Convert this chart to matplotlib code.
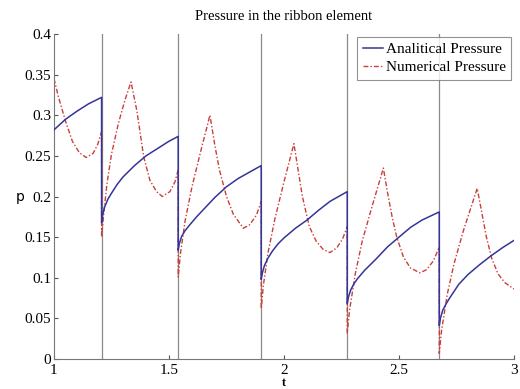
import matplotlib
matplotlib.use("Agg")
import matplotlib.pyplot as plt

# switching instants (vertical lines)
t_switch = [1.207, 1.540, 1.901, 2.275, 2.675]

# analytical pressure (jumps are repeated t values)
t_ana = [1.0, 1.05, 1.10, 1.15, 1.207,
         1.207, 1.212, 1.22, 1.235, 1.25, 1.275, 1.30, 1.35, 1.40, 1.45, 1.50, 1.540,
         1.540, 1.545, 1.555, 1.57, 1.59, 1.62, 1.65, 1.70, 1.75, 1.80, 1.85, 1.901,
         1.901, 1.906, 1.915, 1.93, 1.95, 1.975, 2.00, 2.05, 2.10, 2.15, 2.20, 2.275,
         2.275, 2.28, 2.29, 2.305, 2.32, 2.35, 2.40, 2.45, 2.50, 2.55, 2.60, 2.675,
         2.675, 2.68, 2.69, 2.705, 2.72, 2.76, 2.80, 2.85, 2.90, 2.95, 3.0]
p_ana = [0.282, 0.295, 0.305, 0.314, 0.322,
         0.168, 0.178, 0.187, 0.197, 0.204, 0.215, 0.224, 0.238, 0.250, 0.259, 0.268, 0.274,
         0.134, 0.142, 0.151, 0.158, 0.165, 0.175, 0.184, 0.199, 0.212, 0.222, 0.230, 0.238,
         0.098, 0.106, 0.115, 0.124, 0.133, 0.142, 0.149, 0.161, 0.171, 0.183, 0.194, 0.206,
         0.068, 0.076, 0.085, 0.093, 0.099, 0.109, 0.123, 0.138, 0.150, 0.162, 0.171, 0.181,
         0.041, 0.050, 0.060, 0.068, 0.075, 0.092, 0.104, 0.116, 0.127, 0.137, 0.146]

# numerical pressure
t_num = [1.0, 1.02, 1.05, 1.08, 1.11, 1.14, 1.17, 1.19, 1.207,
         1.207, 1.215, 1.23, 1.25, 1.28, 1.31, 1.335,
         1.36, 1.39, 1.417, 1.446, 1.471, 1.504, 1.526, 1.540,
         1.540, 1.55, 1.57, 1.60, 1.64, 1.678,
         1.70, 1.72, 1.75, 1.78, 1.823, 1.85, 1.88, 1.901,
         1.901, 1.91, 1.93, 1.96, 2.00, 2.043,
         2.06, 2.08, 2.11, 2.14, 2.17, 2.20, 2.23, 2.255, 2.275,
         2.275, 2.285, 2.31, 2.34, 2.38, 2.432,
         2.45, 2.47, 2.49, 2.52, 2.55, 2.591, 2.62, 2.65, 2.675,
         2.675, 2.685, 2.71, 2.74, 2.78, 2.84,
         2.86, 2.88, 2.903, 2.93, 2.96, 3.0]
p_num = [0.345, 0.322, 0.293, 0.268, 0.254, 0.248, 0.253, 0.264, 0.280,
         0.150, 0.175, 0.215, 0.252, 0.290, 0.320, 0.341,
         0.306, 0.249, 0.220, 0.206, 0.200, 0.206, 0.218, 0.233,
         0.101, 0.130, 0.170, 0.212, 0.258, 0.300,
         0.262, 0.232, 0.200, 0.178, 0.161, 0.165, 0.177, 0.194,
         0.062, 0.090, 0.130, 0.172, 0.218, 0.265,
         0.235, 0.200, 0.163, 0.145, 0.135, 0.131, 0.137, 0.148, 0.163,
         0.032, 0.060, 0.105, 0.145, 0.185, 0.235,
         0.205, 0.175, 0.150, 0.125, 0.112, 0.106, 0.110, 0.121, 0.138,
         0.007, 0.035, 0.080, 0.118, 0.158, 0.210,
         0.180, 0.150, 0.124, 0.105, 0.094, 0.086]

x_ticks = [1, 1.5, 2, 2.5, 3]
x_labels = ["1", "1.5", "2", "2.5", "3"]
y_ticks = [0, 0.05, 0.1, 0.15, 0.2, 0.25, 0.3, 0.35, 0.4]
y_labels = ["0", "0.05", "0.1", "0.15", "0.2", "0.25", "0.3", "0.35", "0.4"]

serif = "Liberation Serif"

fig = plt.figure(figsize=(5.2, 3.89), dpi=100)
ax = fig.add_axes([0.1038, 0.0771, 0.8847, 0.8355])

for ts in t_switch:
    ax.axvline(ts, color="#8a8a8a", linewidth=0.9, zorder=1)

ax.plot(t_ana, p_ana, color="#34349a", linewidth=1.1, label="Analitical Pressure", zorder=3)
ax.plot(t_num, p_num, color="#c8403a", linewidth=1.0, dashes=(3.5, 1.5, 1, 1.5),
        label="Numerical Pressure", zorder=2)

ax.set_xlim(1, 3)
ax.set_ylim(0, 0.4)
ax.set_xticks(x_ticks)
ax.set_xticklabels(x_labels, fontfamily=serif, fontsize=11)
ax.set_yticks(y_ticks)
ax.set_yticklabels(y_labels, fontfamily=serif, fontsize=11)
ax.tick_params(direction="in", length=3, width=0.8, color="#555555")
ax.tick_params(axis="x", pad=3.5)
ax.tick_params(axis="y", pad=2)

ax.spines["top"].set_visible(False)
ax.spines["right"].set_visible(False)
ax.spines["left"].set_color("#777777")
ax.spines["bottom"].set_color("#777777")

ax.set_title("Pressure in the ribbon element", fontfamily=serif, fontsize=10.5, pad=10)
ax.set_xlabel("t", fontfamily=serif, fontsize=8.5, fontweight="bold")
ax.xaxis.set_label_coords(0.5, -0.0915)
ax.xaxis.label.set_va("bottom")
ax.set_ylabel("p", fontfamily="DejaVu Sans", fontsize=10, rotation=0, labelpad=3, va="center")

leg = ax.legend(loc="upper right", bbox_to_anchor=(1.0, 1.0), borderaxespad=0.2,
                prop={"family": serif, "size": 11}, fancybox=False,
                handlelength=1.3, handletextpad=0.2, borderpad=0.35, labelspacing=0.3)
leg.get_frame().set_edgecolor("#777777")
leg.get_frame().set_linewidth(0.8)

fig.savefig("out.png", dpi=100)
